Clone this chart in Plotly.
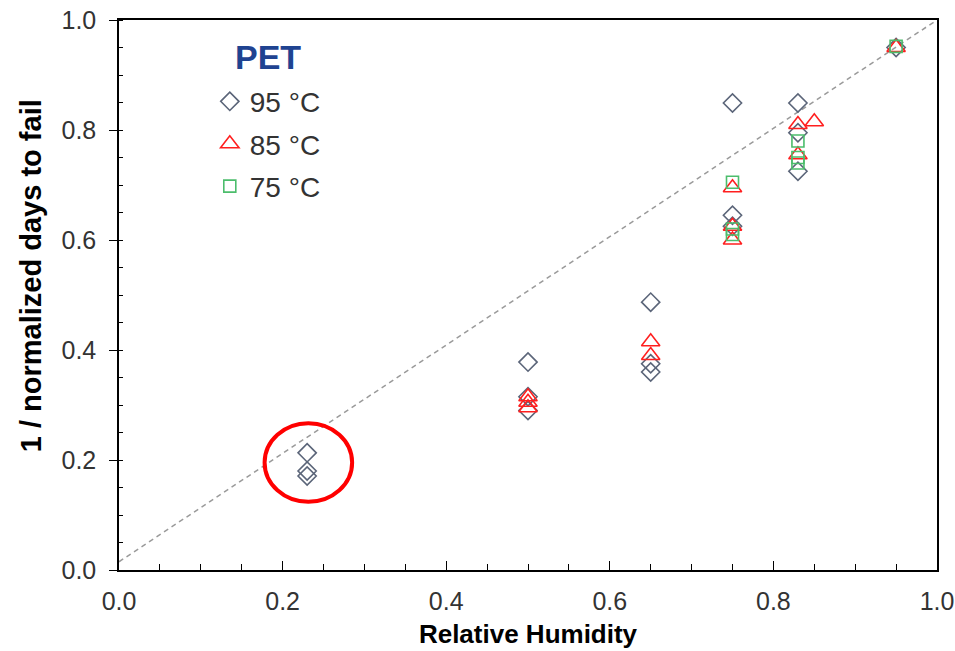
import plotly.graph_objects as go

# Relative humidity of each test and 1/normalized days to fail, per temperature
rh_95 = [0.23, 0.23, 0.23, 0.50, 0.50, 0.50, 0.65, 0.65, 0.65, 0.75, 0.75, 0.75, 0.83, 0.83, 0.83, 0.95]
inv_95 = [0.213, 0.180, 0.171, 0.378, 0.315, 0.290, 0.487, 0.375, 0.360, 0.849, 0.645, 0.625, 0.849, 0.795, 0.725, 0.950]

rh_85 = [0.50, 0.50, 0.50, 0.65, 0.65, 0.75, 0.75, 0.75, 0.83, 0.83, 0.85, 0.95]
inv_85 = [0.315, 0.305, 0.295, 0.415, 0.390, 0.695, 0.625, 0.600, 0.810, 0.755, 0.815, 0.950]

rh_75 = [0.75, 0.75, 0.75, 0.83, 0.83, 0.83, 0.95]
inv_75 = [0.705, 0.620, 0.610, 0.780, 0.750, 0.740, 0.952]

# Reference line
ref_x = [0.0, 1.0]
ref_y = [0.015, 1.0]

# Highlighted low-humidity cluster
circle_x = [0.178, 0.285]
circle_y = [0.124, 0.267]

series_names = ["95 °C", "85 °C", "75 °C"]
material = "PET"
x_title = "Relative Humidity"
y_title = "1 / normalized days to fail"

FONT = "Arial, Liberation Sans"

fig = go.Figure()

fig.add_trace(go.Scatter(
    x=ref_x, y=ref_y, mode="lines", showlegend=False, hoverinfo="skip",
    line=dict(color="#9a9a9a", width=1.5, dash="5px,4px"),
))

fig.add_trace(go.Scatter(
    x=rh_95, y=inv_95, mode="markers", name=series_names[0], legendgroup="a",
    marker=dict(symbol="diamond-open", size=14, color="#5b6579", line=dict(width=1.6)),
))
fig.add_trace(go.Scatter(
    x=rh_85, y=inv_85, mode="markers", name=series_names[1], legendgroup="b",
    marker=dict(symbol="triangle-up-open", size=16, color="#ff1f1f", line=dict(width=1.6)),
))
fig.add_trace(go.Scatter(
    x=rh_75, y=inv_75, mode="markers", name=series_names[2], legendgroup="c",
    marker=dict(symbol="square-open", size=12, color="#4cbd6c", line=dict(width=1.6)),
))

fig.add_shape(
    type="circle", xref="x", yref="y",
    x0=circle_x[0], x1=circle_x[1], y0=circle_y[0], y1=circle_y[1],
    line=dict(color="#ff0000", width=4),
)

fig.add_annotation(
    text=f"<b>{material}</b>", xref="paper", yref="paper",
    x=0.139, y=0.933, xanchor="left", yanchor="middle", showarrow=False,
    font=dict(family=FONT, size=34, color="#1f4391"),
)

# Vertical axis title, placed a little above the axis midpoint
fig.add_annotation(
    text=f"<b>{y_title}</b>", xref="paper", yref="paper",
    x=-0.1076, y=0.536, xanchor="center", yanchor="middle", showarrow=False,
    textangle=-90,
    font=dict(family=FONT, size=29, color="#000000"),
)

axis_common = dict(
    range=[0, 1], dtick=0.2, tickformat=".1f",
    showgrid=False, zeroline=False, automargin=False,
    showline=True, linecolor="#000000", linewidth=1.5, mirror=True,
    tickfont=dict(family=FONT, size=25, color="#333333"),
    tickcolor="#000000", tickwidth=1.2,
)

fig.update_xaxes(
    **axis_common,
    ticks="inside", ticklen=9, ticklabelstandoff=8,
    minor=dict(dtick=0.05, ticks="inside", ticklen=6, tickcolor="#000000", tickwidth=1),
    title=dict(text=f"<b>{x_title}</b>", standoff=11,
               font=dict(family=FONT, size=26, color="#000000")),
)
fig.update_yaxes(
    **axis_common,
    ticks="outside", ticklen=8, ticklabelstandoff=8,
    minor=dict(dtick=0.05, ticks="inside", ticklen=4, tickcolor="#000000", tickwidth=1),
)

fig.update_layout(
    width=955, height=651,
    margin=dict(l=119, r=18, t=20, b=81, autoexpand=False),
    paper_bgcolor="#ffffff", plot_bgcolor="#ffffff",
    showlegend=True,
    legend=dict(
        x=0.111, y=0.897, xanchor="left", yanchor="top",
        bgcolor="rgba(0,0,0,0)", tracegroupgap=3,
        font=dict(family=FONT, size=28, color="#333333"),
        itemwidth=30,
    ),
)

fig.write_html("out.html")
